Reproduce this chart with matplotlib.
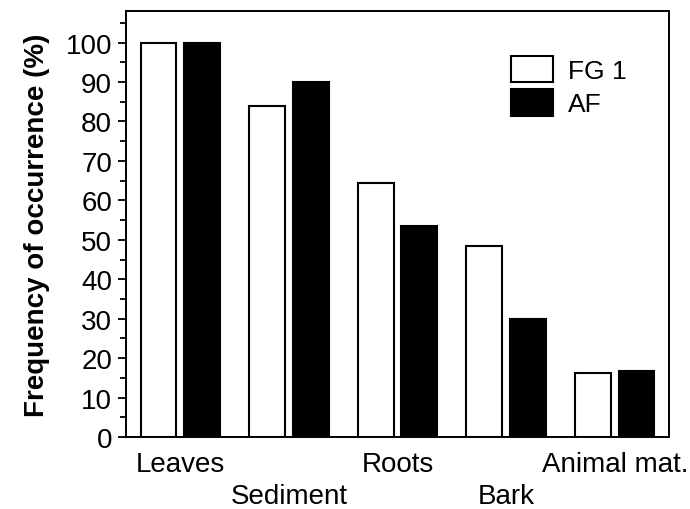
import numpy as np
import matplotlib
matplotlib.use('Agg')
import matplotlib.pyplot as plt

# Data
CATEGORIES = ['Leaves', 'Sediment', 'Roots', 'Bark', 'Animal mat.']
FG1 = [100, 83.8, 64.5, 48.4, 16.2]
AF = [100, 90.1, 53.5, 30.0, 16.8]
SERIES_NAMES = ['FG 1', 'AF']

plt.rcParams['font.family'] = ['Liberation Sans', 'DejaVu Sans']
plt.rcParams['font.size'] = 20

fig = plt.figure(figsize=(6.9, 5.1), dpi=100)
ax = fig.add_axes([126 / 690, 72 / 510, 543 / 690, 426 / 510])

x = np.arange(len(CATEGORIES))
width = 0.33
ax.bar(x - 0.2, FG1, width, color='white', edgecolor='black', linewidth=1.5,
       label=SERIES_NAMES[0])
ax.bar(x + 0.2, AF, width, color='black', edgecolor='black', linewidth=1.5,
       label=SERIES_NAMES[1])

ax.set_xlim(-0.5, 4.5)
ax.set_ylim(0, 108)
ax.set_yticks(np.arange(0, 101, 10))
ax.set_yticks(np.arange(5, 106, 10), minor=True)
ax.tick_params(axis='y', which='major', length=6, width=1.3, pad=4)
ax.tick_params(axis='y', which='minor', length=4.5, width=1.3)

# alternate labels between two rows
labels = [c if i % 2 == 0 else '\n' + c for i, c in enumerate(CATEGORIES)]
ax.set_xticks(x)
ax.set_xticklabels(labels, linespacing=1.3)
ax.tick_params(axis='x', length=0, pad=10)

for s in ax.spines.values():
    s.set_linewidth(1.4)

ax.set_ylabel('Frequency of occurrence (%)', fontweight='bold', fontsize=20,
              labelpad=11)

ax.legend(loc='upper left', bbox_to_anchor=(0.685, 0.926), frameon=False,
          fontsize=19, borderpad=0, handlelength=1.6, handleheight=1.17,
          labelspacing=0.24, handletextpad=0.55)

fig.savefig('out.png', dpi=100)
